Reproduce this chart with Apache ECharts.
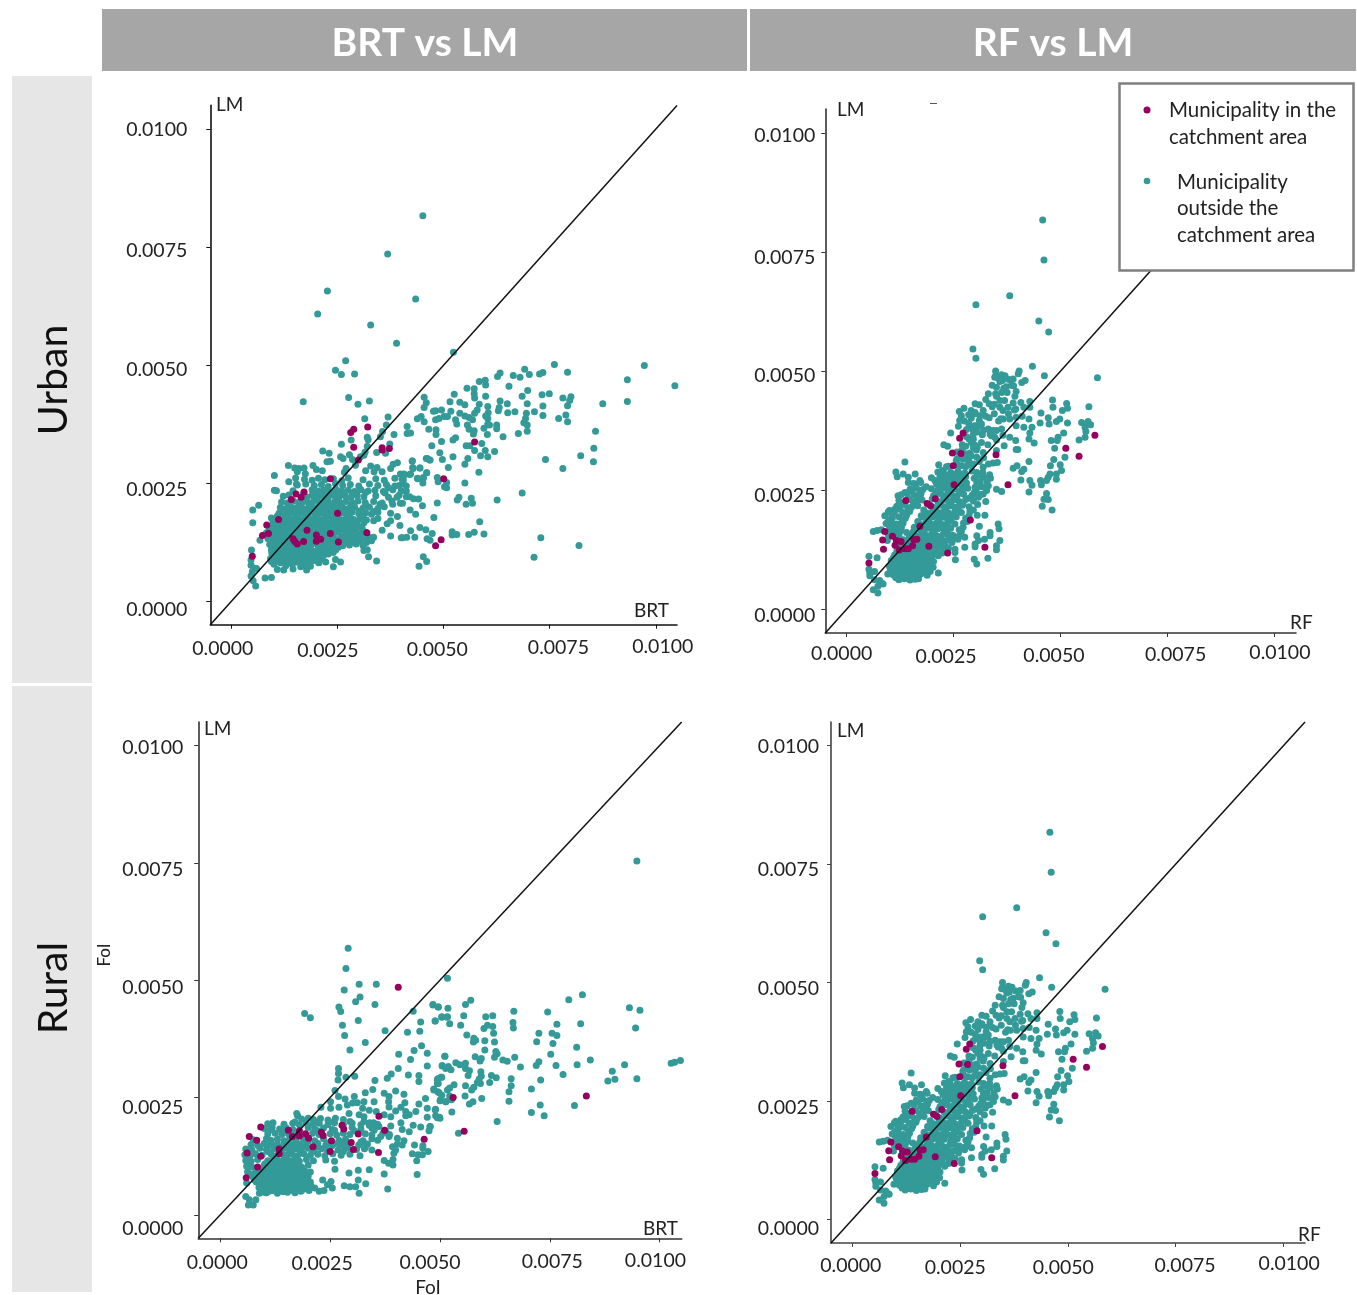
<!DOCTYPE html>
<html>
<head>
<meta charset="utf-8">
<style>html,body{margin:0;padding:0;background:#fff}#c{width:1357px;height:1295px}</style>
<script src="https://cdn.jsdelivr.net/npm/echarts@6/dist/echarts.min.js"></script>
</head>
<body>
<div id="c"></div>
<script>
// All pairs are [model score, LM score] in units of 0.00001
const tickValues = [0, 0.0025, 0.005, 0.0075, 0.01];
const tickLabels = ['0.0000', '0.0025', '0.0050', '0.0075', '0.0100'];

const brtUrbanInside = [[573,337],[500,259],[494,130],[481,117],[49,95],[73,139],[87,143],[83,161],[111,173],[141,215],[152,227],[164,220],[171,231],[233,259],[250,186],[178,150],[145,132],[149,126],[155,121],[170,126],[200,140],[200,127],[210,131],[233,143],[252,125],[319,145],[281,357],[288,364],[321,369],[288,326],[355,325],[355,320],[372,323],[299,299]];

const brtUrbanOutside = [[451,816],[368,735],[226,657],[203,608],[434,640],[328,585],[389,546],[269,509],[245,489],[259,480],[290,481],[169,422],[276,431],[298,417],[325,424],[314,386],[369,390],[365,373],[356,359],[351,348],[383,353],[282,341],[320,347],[322,342],[259,332],[320,328],[373,333],[315,316],[342,315],[363,313],[215,318],[230,313],[257,306],[263,302],[278,310],[285,300],[225,295],[233,296],[312,309],[304,306],[134,287],[149,282],[159,281],[171,282],[192,287],[200,279],[214,276],[155,274],[174,270],[270,281],[266,273],[292,288],[328,286],[343,283],[316,276],[336,274],[355,274],[375,281],[391,293],[381,290],[426,297],[461,302],[468,299],[428,281],[444,282],[398,269],[408,268],[420,268],[460,272],[438,260],[452,260],[402,258],[101,266],[135,253],[151,261],[153,248],
[523,527],[761,501],[973,499],[933,469],[1045,456],[792,485],[734,484],[726,481],[691,491],[702,480],[680,474],[664,478],[633,483],[627,476],[598,468],[584,465],[599,458],[555,451],[572,450],[654,455],[698,446],[525,438],[572,439],[599,434],[573,430],[685,434],[732,437],[749,439],[781,430],[800,433],[797,425],[792,414],[875,418],[933,423],[454,432],[515,422],[538,421],[550,416],[459,420],[454,410],[584,417],[604,412],[633,424],[650,418],[697,418],[734,413],[631,410],[629,403],[651,399],[668,401],[695,398],[714,401],[734,393],[788,394],[771,387],[792,380],[476,402],[495,405],[481,403],[517,402],[538,398],[579,405],[573,398],[605,399],[501,391],[509,391],[489,387],[481,384],[438,386],[447,391],[454,380],[528,384],[550,392],[560,389],[568,384],[599,392],[604,387],[693,387],[689,378],[604,375],[625,373],[625,365],[697,373],[531,375],[556,373],[560,364],[595,366],[608,373],[414,370],[465,364],[482,363],[482,353],[414,355],[422,356],[572,361],[570,354],[603,353],[676,355],[697,360],[858,360],[640,348],[495,338],[528,346],[522,341],[472,329],[553,329],[562,329],[590,334],[573,319],[598,319],[620,317],[587,308],[604,306],[854,324],[491,314],[522,306],[557,302],[459,302],[467,299],[497,300],[426,297],[550,290],[511,283],[740,300],[823,308],[853,295],[781,281],[427,283],[444,282],[583,273],[406,269],[422,269],[460,272],[439,259],[452,262],[485,262],[487,253],[451,250],[550,250],[507,251],[502,242],[507,240],[412,244],[412,233],[412,221],[685,229],[429,217],[441,216],[403,207],[450,202],[485,208],[532,214],[536,220],[565,218],[553,205],[568,207],[626,214],[421,193],[434,184],[477,177],[585,168],[444,156],[458,151],[422,149],[473,143],[520,147],[520,140],[531,141],[559,141],[572,146],[595,142],[729,134],[819,118],[432,135],[413,135],[403,134],[461,132],[468,129],[452,94],[460,84],[442,74],[713,93],
[47,108],[46,87],[46,76],[53,69],[49,62],[59,69],[46,53],[51,43],[57,32],[79,49],[94,50],[50,193],[64,203],[50,166],[67,129],[94,176],[101,235],[106,234],
[108,67],[123,66],[145,68],[163,73],[177,66],[186,74],[206,81],[222,83],[240,73],[257,83],[245,88],[323,94],[342,85],[312,107],[320,109],
[100,78],[115,81],[128,75],[142,79],[155,84],[170,77],
[92,90],[104,93],[118,88],[130,92],[143,91],[156,94],[168,88],[182,90],[198,93],[214,89],
[95,102],[108,100],[120,105],[133,99],[146,103],[158,101],[171,104],[184,98],[196,102],[210,105],[228,100],[240,103],
[100,114],[112,116],[125,112],[137,115],[150,113],[162,117],[175,111],[186,115],[205,113],[218,118],[236,112],[252,114],[262,117],
[96,126],[108,124],[120,128],[132,125],[143,127],[156,123],[168,129],[180,126],[192,124],[204,128],[222,125],[238,127],[256,123],[270,128],[284,125],[300,127],[318,124],[330,128],
[92,138],[104,136],[116,140],[128,137],[140,139],[152,135],[164,141],[176,137],[188,139],[200,136],[212,140],[226,137],[240,139],[258,136],[275,140],[290,137],[305,139],[322,136],[335,135],
[88,150],[100,148],[112,152],[124,149],[136,151],[148,147],[160,153],[172,149],[184,151],[196,148],[208,152],[220,149],[232,151],[246,148],[262,152],[278,149],[292,151],[310,148],
[98,162],[110,160],[122,164],[134,161],[146,163],[158,159],[170,165],[182,161],[194,163],[206,160],[218,164],[230,161],[244,163],[256,160],[270,164],[285,161],[300,158],
[104,174],[116,172],[128,176],[140,173],[152,175],[164,171],[176,177],[188,173],[200,175],[212,172],[224,176],[236,173],[248,175],[262,172],[274,176],[288,173],[304,175],[318,172],[335,170],
[112,186],[124,184],[136,188],[148,185],[160,187],[172,183],[184,189],[196,185],[208,187],[220,184],[232,188],[244,185],[258,187],[270,184],[284,188],[300,185],[316,187],[330,184],[345,188],
[115,198],[128,196],[140,200],[152,197],[164,199],[176,195],[188,201],[200,197],[212,199],[224,196],[236,200],[250,197],[262,199],[276,196],[290,200],[310,197],[325,199],[345,196],[360,200],
[118,210],[132,208],[146,212],[158,209],[170,211],[182,207],[194,213],[206,209],[218,211],[230,208],[244,212],[256,209],[270,211],[285,208],[298,212],[315,209],[335,211],[355,208],[378,212],
[122,222],[135,225],[178,220],[190,224],[204,221],[216,223],[228,219],[240,225],[254,221],[268,223],[282,220],[296,224],[312,221],[340,223],[370,220],[395,224],[420,221],
[145,234],[190,236],[205,233],[218,235],[232,231],[246,237],[260,233],[275,235],[290,232],[305,236],[322,233],[338,235],[358,232],[380,236],[400,233],
[155,246],[175,248],[195,245],[212,247],[228,243],[245,249],[262,245],[280,247],[300,244],[325,248],[345,245],[365,247],[385,244],[405,248],
[172,258],[190,256],[205,260],[220,257],[240,259],[260,255],[275,261],[310,257],[340,259],[360,256],[385,260],[405,257]];

const brtUrbanCore = [[94,84],[106,86],[121,83],[136,85],[149,82],[162,87],[176,83],[190,85],[205,82],
[98,96],[112,98],[126,95],[139,97],[152,94],[164,98],[177,95],[190,97],[204,94],[218,98],
[94,108],[106,110],[114,107],[127,109],[140,106],[152,110],[165,107],[178,109],[192,106],[212,110],[226,107],[246,109],
[90,120],[102,122],[114,119],[126,121],[138,118],[150,122],[162,119],[174,121],[186,118],[198,122],[212,119],[230,121],[246,118],[262,122],[278,119],[294,121],[310,118],
[86,132],[98,130],[110,134],[122,131],[134,133],[146,130],[158,134],[170,131],[182,133],[194,130],[206,134],[218,131],[232,133],[250,130],[268,134],[282,131],[298,133],[314,130],[328,134],
[82,144],[94,142],[106,146],[118,143],[130,145],[142,142],[154,146],[166,143],[178,145],[190,142],[202,146],[214,143],[226,145],[240,142],[252,146],[268,143],[284,145],[300,142],[316,146],
[92,156],[104,154],[116,158],[128,155],[140,157],[152,154],[164,158],[176,155],[188,157],[200,154],[212,158],[224,155],[238,157],[250,154],[264,158],[278,155],[292,157],[308,154],
[98,168],[110,166],[122,170],[134,167],[146,169],[158,166],[170,170],[182,167],[194,169],[206,166],[218,170],[230,167],[242,169],[254,166],[268,170],[280,167],[296,169],[312,166],
[108,180],[132,182],[156,181],[180,182],[204,181],[228,182],[252,181],[278,182],[310,181],
[122,190],[146,191],[170,190],[194,191],[218,190],[242,191],[268,190],[300,191],[336,190],
[136,202],[164,203],[190,202],[218,203],[248,202],[282,203],[318,202],
[170,228],[198,230],[224,229],[252,230],[285,229],[316,230],[362,229],
[398,207],[391,179],[375,186],[367,164],[397,160],[375,138],[400,134],[375,170],[355,150],[345,175],[350,205],[390,220],[370,240],[395,245],[380,205]];

const rfInside = [[52,97],[86,126],[84,145],[89,163],[107,153],[113,134],[116,144],[127,142],[123,124],[136,127],[144,127],[154,133],[157,146],[164,147],[171,174],[192,132],[236,118],[323,130],[289,187],[138,228],[188,222],[196,217],[207,232],[251,261],[249,301],[247,328],[267,327],[272,370],[264,359],[349,324],[377,261],[512,338],[543,321],[580,365]];

const rfOutside = [[458,817],[461,733],[381,658],[302,639],[449,605],[472,582],[295,546],[302,527],[434,510],[586,486],[462,490],[348,500],[403,500],[401,494],[362,492],[348,490],[354,485],[346,487],[358,478],[364,480],[379,482],[389,483],[409,476],[417,480],[390,469],[373,467],[367,464],[350,466],[331,452],[348,452],[362,455],[350,447],[396,457],[393,447],[358,438],[369,438],[333,431],[300,431],[310,429],[389,433],[407,434],[428,436],[481,439],[514,432],[482,424],[566,425],[358,424],[377,424],[365,417],[392,418],[274,422],[263,415],[291,417],[300,413],[319,417],[414,424],[428,424],[454,412],[516,422],[504,417],[471,402],[268,406],[264,396],[291,401],[311,406],[310,396],[333,402],[366,399],[381,399],[396,403],[426,399],[452,391],[473,389],[490,394],[498,399],[516,391],[549,392],[564,394],[570,387],[557,382],[559,373],[557,361],[543,355],[261,384],[287,382],[304,385],[315,389],[331,378],[342,375],[362,378],[396,385],[414,382],[433,382],[428,370],[243,370],[280,377],[296,375],[317,366],[338,364],[346,361],[381,361],[395,354],[426,357],[438,349],[507,370],[494,361],[492,354],[478,354],[486,338],[510,319],[484,314],[476,301],[499,303],[502,291],[490,284],[490,273],[475,284],[471,277],[467,270],[453,270],[455,261],[426,246],[428,270],[433,260],[407,271],[389,296],[398,301],[414,294],[409,289],[426,310],[467,243],[461,231],[471,230],[457,216],[480,208],[368,343],[396,335],[400,335],[350,333],[286,357],[296,357],[291,350],[300,344],[319,329],[227,345],[236,342],[280,326],[291,322],[304,319],[272,315],[256,312],[268,301],[283,303],[296,305],[319,298],[331,305],[342,307],[352,308],[215,303],[233,299],[223,291],[229,280],[253,284],[272,284],[304,287],[315,284],[334,282],[336,275],[136,309],[115,288],[132,284],[118,278],[144,277],[160,284],[171,270],[144,266],[160,263],[206,270],[222,273],[245,270],[268,270],[304,266],[300,256],[331,259],[350,252],[362,247],[327,249],[319,242],[308,235],[325,226],
[354,179],[356,169],[323,197],[305,197],[310,174],[335,161],[304,154],[308,144],[300,137],[322,147],[335,154],[358,144],[350,133],[350,125],[276,151],[263,154],[260,147],[276,130],[253,126],[253,119],[254,104],[298,105],[304,95],[330,107],[300,131],[233,144],[237,158],[214,76],[202,88],
[62,163],[71,165],[81,167],[71,108],[52,111],[52,84],[65,79],[54,70],[54,77],[65,62],[77,60],[85,53],[73,48],[62,41],[73,34],[83,54],[96,74],[115,69],
[120,238],[124,224],[100,207],[110,203],[89,196],[105,193],[105,174],[124,210],[144,210],[156,224],[172,249],[136,245],[152,249],[164,238],
[122,62],[135,64],[148,61],[160,63],
[109,72],[122,74],[134,71],[148,73],[161,70],[173,74],[188,71],
[102,84],[114,86],[127,83],[139,85],[153,82],[166,86],[178,83],[193,85],
[105,96],[117,98],[130,95],[142,97],[156,94],[168,98],[181,95],[196,97],
[109,108],[121,110],[133,107],[145,109],[158,106],[170,110],[183,107],[198,109],
[117,120],[129,122],[142,119],[155,121],[168,118],[180,122],[193,119],[208,121],[223,118],
[125,132],[137,134],[150,131],[163,133],[175,130],[188,134],[203,131],[218,133],[233,130],
[95,144],[132,146],[146,143],[158,145],[170,142],[183,146],[196,143],[208,145],[223,142],[243,146],
[97,156],[109,158],[122,155],[148,157],[160,154],[173,158],[185,155],[198,157],[210,154],[226,158],[248,155],
[102,168],[115,170],[127,167],[163,169],[176,166],[188,170],[201,167],[213,169],[228,166],[243,170],[263,167],
[92,180],[105,182],[117,179],[132,181],[173,178],[186,182],[198,179],[210,181],[223,178],[236,182],[253,179],[273,181],
[107,192],[122,194],[137,191],[178,193],[191,190],[203,194],[216,191],[228,193],[241,190],[256,194],[278,191],
[97,204],[112,206],[132,203],[147,205],[188,202],[201,206],[213,203],[226,205],[238,202],[253,206],[268,203],[288,205],
[117,216],[137,218],[152,215],[166,217],[203,214],[218,218],[230,215],[243,217],[256,214],[270,218],[286,215],
[122,228],[147,230],[163,227],[176,229],[213,226],[226,230],[238,227],[250,229],[263,226],[278,230],[296,227],
[127,240],[142,242],[158,239],[173,241],[203,238],[220,242],[233,239],[245,241],[258,238],[273,242],[293,239],[313,241],
[148,252],[163,254],[178,251],[198,253],[213,250],[228,254],[241,251],[253,253],[268,250],[283,254],[303,251],
[156,264],[173,266],[210,263],[226,265],[238,262],[250,266],[263,263],[280,265],[308,262],[328,266],
[198,276],[218,278],[233,275],[248,277],[260,274],[278,278],[298,275],[320,277],
[213,288],[226,290],[243,287],[260,289],[276,286],[293,290],[318,287],
[238,300],[260,302],[278,299],[290,303],[258,316],[275,318],[288,328],[303,334],[278,342],[296,340]];

const rfCore = [[115,66],[128,68],[142,65],[155,67],[168,64],
[106,78],[118,80],[130,77],[143,79],[156,76],[168,80],[182,77],[195,79],
[100,90],[112,92],[124,89],[136,91],[150,88],[162,92],[175,89],[188,91],
[104,102],[116,104],[128,101],[140,103],[152,100],[164,104],[176,101],[190,103],[203,100],
[112,114],[124,116],[136,113],[148,115],[160,112],[172,116],[186,113],[200,115],[214,112],
[118,126],[130,128],[142,125],[156,127],[168,124],[180,128],[194,125],[208,127],[224,124],[238,128],
[122,138],[134,140],[146,137],[158,139],[170,136],[182,140],[196,137],[212,139],[228,136],[246,140],
[120,152],[146,151],[170,152],[194,151],[220,152],[254,151],
[112,162],[126,164],[140,161],[156,163],[180,164],[204,163],[232,164],[268,163],
[100,174],[128,173],[158,172],[182,173],[206,172],[234,173],[272,172],
[98,186],[130,185],[166,184],[192,185],[216,184],[244,185],[282,184],
[106,198],[140,197],[174,196],[198,197],[222,196],[250,197],[286,196],
[112,210],[148,209],[180,208],[208,209],[232,208],[260,209],[296,208],
[128,222],[160,221],[192,220],[220,221],[244,220],[272,221],[306,220],
[170,233],[200,232],[230,233],[254,232],[286,233],
[174,245],[208,244],[238,245],[264,244],[298,245],
[186,257],[220,256],[246,257],[272,256],[316,257],
[218,269],[244,268],[270,269],[312,268],
[238,281],[268,280],[306,281],
[275,395],[285,390],[298,385],[305,372],[320,376],[335,368],[350,375],[355,395],[345,410],[325,405],[310,385],[295,365],[280,362],[270,345],[258,330],[300,410],[285,408],[340,425],[325,440],[345,430],[375,455],[385,470],[370,490],[340,470],[395,420],[410,405],[378,410],[360,400],[350,355],[365,365],[330,345],[315,350],[305,340],[285,315],[310,310],[320,318],[270,335]];

const brtRuralInside = [[405,485],[530,250],[833,253],[555,178],[92,187],[66,167],[83,159],[61,132],[92,125],[134,140],[134,130],[85,102],[59,79],[155,180],[164,167],[180,179],[180,168],[194,173],[201,163],[211,145],[230,176],[234,169],[253,158],[250,135],[277,191],[281,183],[298,154],[303,139],[314,172],[361,210],[374,180],[360,133],[464,161]];

const brtRuralOutside = [[948,754],[291,568],[286,525],[282,479],[316,491],[355,491],[318,464],[517,504],[824,469],[793,458],[931,441],[955,436],[570,457],[558,448],[484,448],[496,443],[518,440],[668,434],[745,432],[620,424],[604,422],[554,424],[504,421],[516,421],[489,413],[522,407],[547,404],[666,410],[766,406],[820,407],[945,398],[667,398],[608,404],[620,401],[600,397],[622,387],[561,383],[725,387],[755,387],[766,382],[577,376],[581,372],[576,368],[602,371],[624,368],[720,369],[757,365],[811,357],[602,351],[627,348],[630,343],[624,336],[752,342],[580,337],[594,333],[591,328],[670,336],[643,330],[653,327],[511,338],[725,326],[719,318],[764,318],[812,320],[842,330],[920,320],[1026,323],[1034,325],[1047,329],[683,315],[536,324],[545,320],[558,323],[505,317],[519,316],[525,309],[558,312],[567,307],[564,297],[593,305],[594,296],[617,297],[628,292],[613,282],[589,289],[585,282],[592,280],[662,290],[729,287],[780,299],[892,306],[898,289],[882,285],[948,290],[495,290],[504,293],[532,277],[496,280],[522,270],[558,275],[577,272],[572,266],[662,275],[657,262],[708,268],[486,268],[495,262],[504,255],[557,253],[595,248],[522,253],[500,243],[513,241],[526,245],[575,241],[567,236],[657,242],[728,234],[806,233],[489,224],[527,219],[708,218],[737,211],[630,199],[494,207],[500,206],[478,188],[542,174],
[192,429],[205,420],[270,443],[274,433],[308,454],[352,448],[278,404],[283,382],[314,414],[330,367],[375,392],[295,351],[439,434],[484,447],[496,443],[504,422],[489,413],[517,422],[456,411],[426,389],[454,391],[458,360],[441,350],[406,342],[433,331],[471,344],[511,338],[471,317],[505,318],[513,312],[405,312],[389,300],[380,291],[428,298],[452,297],[452,284],[502,293],[494,287],[494,280],[352,286],[269,312],[269,301],[268,287],[286,293],[306,295],[347,267],[330,260],[261,265],[373,259],[399,264],[418,257],[486,266],[498,260],[517,266],[269,252],[284,247],[305,252],[327,241],[350,241],[384,252],[383,241],[384,230],[420,239],[467,248],[501,245],[513,241],[452,236],[411,229],[399,221],[422,220],[229,229],[251,241],[251,227],[270,229],[289,234],[301,238],[312,239],[324,227],[339,223],[355,220],[293,216],[316,213],[327,209],[373,213],[388,209],[422,211],[445,220],[471,227],[490,225],[471,208],[490,211],[499,208],[430,213],[411,196],[388,189],[414,182],[430,177],[439,191],[456,187],[477,188],[475,179],[349,196],[327,199],[339,191],[361,188],[377,177],[384,167],[403,163],[365,167],[418,158],[403,151],[392,145],[414,149],[442,149],[461,147],[461,142],[473,135],[460,128],[450,128],[437,130],[447,115],[399,138],[395,131],[373,116],[383,110],[393,118],[393,106],[448,86],[373,87],[339,96],[314,95],[293,89],[261,97],[381,55],[316,46],[331,66],[314,74],[308,60],[295,60],[282,62],[255,57],[252,71],[233,74],[244,64],[225,50],[236,52],[202,52],[81,32],[64,21],[75,21],[66,32],[58,39],
[89,46],[100,48],[111,50],[127,50],[142,52],[153,48],[168,50],[183,50],
[92,50],[105,47],[118,52],[130,46],[143,49],[155,53],[170,47],[185,52],
[88,58],[100,60],[112,57],[124,61],[136,58],[148,60],[160,56],[172,61],[185,58],[198,60],[215,57],
[60,68],[82,70],[94,66],[106,69],[118,67],[130,71],[142,66],[154,70],[166,67],[178,69],[190,66],[205,70],
[75,80],[88,78],[100,82],[112,79],[124,81],[136,78],[148,82],[160,79],[172,81],[185,78],[200,82],
[62,92],[80,90],[92,94],[104,91],[116,93],[128,90],[140,94],[152,91],[164,93],[178,90],[192,94],[205,91],
[60,104],[72,102],[100,106],[112,103],[124,105],[136,102],[148,106],[160,103],[172,105],[185,102],[200,106],
[58,116],[70,114],[85,118],[108,115],[120,117],[132,114],[144,118],[156,115],[168,117],[180,114],[196,118],[212,115],[240,117],[260,114],
[56,128],[68,126],[80,130],[95,127],[116,129],[128,126],[140,130],[152,127],[164,129],[176,126],[190,130],[205,127],[222,129],[238,126],[256,130],[275,127],[295,129],[318,126],
[58,140],[72,138],[90,142],[105,139],[122,141],[136,138],[148,142],[160,139],[172,141],[184,138],[200,142],[214,139],[230,141],[268,138],[285,142],[310,139],[328,141],[345,138],
[70,150],[85,148],[100,152],[118,149],[130,151],[145,148],[158,152],[170,149],[182,151],[195,148],[222,152],[240,149],[258,151],[272,148],[290,152],[315,149],[335,151],
[75,160],[105,162],[115,159],[130,161],[145,158],[158,162],[172,159],[190,161],[215,158],[235,162],[270,159],[285,161],[325,158],[345,162],[358,159],
[108,172],[125,174],[140,171],[155,173],[172,170],[210,174],[225,171],[250,173],[265,170],[280,174],[295,171],[330,173],[345,170],[370,174],[385,171],
[100,184],[118,186],[135,183],[150,185],[165,182],[200,186],[215,183],[235,185],[255,182],[300,186],[320,183],[345,185],
[108,194],[120,196],[145,193],[165,195],[180,192],[195,196],[210,193],[225,195],[245,192],[260,196],[280,193],[300,195],[320,192],[340,196],[358,193],
[185,204],[200,206],[212,203],[228,205],[245,202],[262,206],[280,203],[176,211],[174,216]];

const brtRuralCore = [[95,54],[108,56],[122,53],[135,55],[148,52],[162,56],[176,53],[190,55],
[92,64],[106,66],[120,63],[134,65],[148,62],[162,66],[176,63],[190,65],[206,62],
[78,74],[90,76],[102,73],[114,75],[126,72],[138,76],[150,73],[162,75],[174,72],[186,76],[198,73],
[72,86],[84,88],[96,85],[108,87],[120,84],[132,88],[144,85],[156,87],[168,84],[182,88],[196,85],
[96,97],[108,99],[120,96],[132,100],[144,97],[156,99],[168,96],[180,100],
[102,109],[118,108],[130,112],[142,109],[154,111],[166,108],[178,112],
[108,135],[134,136],[158,135],[182,136],[210,135],[244,136],[280,135],
[108,147],[138,143],[164,144],[190,145],[220,146],[254,147],[290,143],[330,144],
[152,153],[200,157],[245,153],[280,154],[320,155],
[112,180],[146,179],[222,179],[260,180],[305,179],[350,180],
[170,198],[222,197],[258,198],[295,199]];

const chart = echarts.init(document.getElementById('c'));

const TEAL = '#339a98', MAGENTA = '#96005f', FONT = 'Lato';
const UNIT = 0.00001;
const scale = pairs => pairs.map(([x, y]) => [x * UNIT, y * UNIT]);
const range = [-0.0005, 0.0105];

const panels = [
  {g:[210.3,105.4,466.7,519.3], out:brtUrbanOutside.concat(brtUrbanCore), ins:brtUrbanInside, axis:'#111', xo:[[-8.7,0],[-9.7,2],[-6.3,1],[8.7,-1],[7,-2]], yo:[8,6,4,3,0], ym:23, xm:12},
  {g:[825.3,109,470.7,524], out:rfOutside.concat(rfCore), ins:rfInside, axis:'#333', xo:[[-5,0],[-7.7,3],[-6.7,2],[8,1],[5.3,-1]], yo:[6,5,4,5,2], ym:10, xm:9},
  {g:[198.3,722,483.4,516.3], out:brtRuralOutside.concat(brtRuralCore), ins:brtRuralInside, axis:'#333', xo:[[-3,0],[-8,1],[-10,0],[2.4,-1],[-4.3,-2]], yo:[13,10,7,6,2], ym:15, xm:12},
  {g:[831,722,474,521], out:rfOutside.concat(rfCore), ins:rfInside, axis:'#444', xo:[[-1.7,0],[-5,2],[-4.7,2],[9.3,0],[5.7,-2]], yo:[9,6,6,5,1], ym:12, xm:11}
];

const grids=[], xAxes=[], yAxes=[], series=[];
panels.forEach((p,i)=>{
  grids.push({left:p.g[0],top:p.g[1],width:p.g[2],height:p.g[3],containLabel:false});
  const xRich={}, yRich={};
  tickValues.forEach((_,k)=>{
    const [dx,dy]=p.xo[k];
    xRich['t'+k]={fontFamily:FONT,fontSize:19.5,color:'#222',padding:[Math.max(dy+2,0),dx<0?-2*dx:0,0,dx>0?2*dx:0]};
    yRich['t'+k]={fontFamily:FONT,fontSize:19.5,color:'#222',padding:[2*p.yo[k]+1,0,0,0]};
  });
  const fmt=v=>{const k=tickValues.findIndex(t=>Math.abs(t-v)<1e-9);return k<0?'':'{t'+k+'|'+tickLabels[k]+'}';};
  const lineStyle={color:p.axis,width:1.6};
  xAxes.push({type:'value',gridIndex:i,min:range[0],max:range[1],splitLine:{show:false},
    axisLine:{show:true,onZero:false,lineStyle},
    axisTick:{show:true,length:4,customValues:tickValues,lineStyle:{color:p.axis,width:1}},
    axisLabel:{show:true,margin:p.xm,customValues:tickValues,formatter:fmt,rich:xRich}});
  yAxes.push({type:'value',gridIndex:i,min:range[0],max:range[1],splitLine:{show:false},
    axisLine:{show:true,onZero:false,lineStyle},
    axisTick:{show:true,length:4,customValues:tickValues,lineStyle:{color:p.axis,width:1}},
    axisLabel:{show:true,margin:p.ym,customValues:tickValues,formatter:fmt,rich:yRich}});
  series.push({type:'scatter',name:'Municipality outside the catchment area',xAxisIndex:i,yAxisIndex:i,data:scale(p.out),symbolSize:7,itemStyle:{color:TEAL,opacity:1},z:2,clip:false,silent:true,animation:false,large:false});
  series.push({type:'scatter',name:'Municipality in the catchment area',xAxisIndex:i,yAxisIndex:i,data:scale(p.ins),symbolSize:7,itemStyle:{color:MAGENTA,opacity:1},z:3,clip:false,silent:true,animation:false});
  series.push({type:'line',name:'y = x',xAxisIndex:i,yAxisIndex:i,data:[[range[0],range[0]],[range[1],range[1]]],showSymbol:false,symbol:'none',lineStyle:{color:'#111',width:1.5},z:4,clip:false,silent:true,animation:false});
});

const T=(text,x,y,size,opt={})=>Object.assign({type:'text',x,y,z:opt.z||50,rotation:opt.rot||0,style:{text,fill:opt.fill||'#222',font:(opt.weight||'normal')+' '+size+'px '+FONT,textAlign:opt.align||'left',textVerticalAlign:'middle'}});
const R=(x,y,w,h,fill)=>({type:'rect',z:1,shape:{x,y,width:w,height:h},style:{fill}});

const graphic=[
  R(102,9,645,62,'#a6a6a6'),R(750,9,606,62,'#a6a6a6'),
  R(12,76,80,607,'#e6e6e6'),R(12,686,80,606,'#e6e6e6'),
  T('BRT vs LM',425,43,39,{fill:'#fff',weight:'bold',align:'center'}),
  T('RF vs LM',1053,43,39,{fill:'#fff',weight:'bold',align:'center'}),
  T('Urban',54,380,41,{fill:'#111',align:'center',rot:Math.PI/2}),
  T('Rural',54,988,41,{fill:'#111',align:'center',rot:Math.PI/2}),
  T('LM',216,105,19),T('BRT',634,611,19),
  T('LM',837,110,19),T('RF',1290,623,19),
  T('LM',204,729,19),T('BRT',643,1229,19),
  T('LM',837,731,19),T('RF',1298,1235,19),
  T('FoI',105,955,17,{align:'center',rot:Math.PI/2}),
  T('FoI',428,1288,19,{align:'center'}),
  {type:'rect',z:1,shape:{x:930,y:103,width:7,height:1},style:{fill:'#555'}},
  {type:'rect',z:60,shape:{x:1119.5,y:83.5,width:234,height:187},style:{fill:'#fff',stroke:'#7f7f7f',lineWidth:2.5}},
  {type:'circle',z:61,shape:{cx:1147,cy:110,r:3.5},style:{fill:MAGENTA}},
  {type:'circle',z:61,shape:{cx:1147,cy:181,r:3.3},style:{fill:TEAL}},
  T('Municipality in the',1169,110,20.5,{z:61}),
  T('catchment area',1169,137,20.5,{z:61}),
  T('Municipality',1177,182,20.5,{z:61}),
  T('outside the',1177,208,20.5,{z:61}),
  T('catchment area',1177,235,20.5,{z:61})
];

chart.setOption({animation:false,backgroundColor:'#fff',grid:grids,xAxis:xAxes,yAxis:yAxes,series,graphic:{elements:graphic}});
</script>
</body>
</html>
